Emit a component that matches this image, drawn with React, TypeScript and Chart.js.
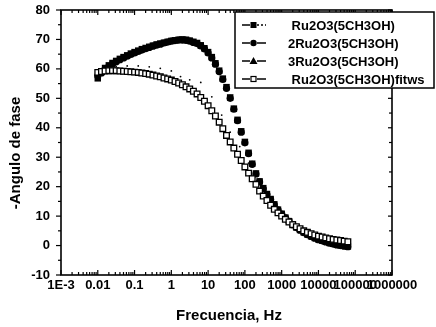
import React, { useEffect, useRef } from "react";
import { Chart, registerables } from "chart.js";

Chart.register(...registerables);

// Frequency grid (Hz), ten points per decade
const frequencies = [
  0.01, 0.0126, 0.0158, 0.02, 0.0251, 0.0316, 0.0398, 0.0501, 0.0631, 0.0794,
  0.1, 0.126, 0.158, 0.2, 0.251, 0.316, 0.398, 0.501, 0.631, 0.794,
  1, 1.26, 1.58, 2, 2.51, 3.16, 3.98, 5.01, 6.31, 7.94,
  10, 12.6, 15.8, 20, 25.1, 31.6, 39.8, 50.1, 63.1, 79.4,
  100, 126, 158, 200, 251, 316, 398, 501, 631, 794,
  1000, 1260, 1580, 2000, 2510, 3160, 3980, 5010, 6310, 7940,
  10000, 12600, 15800, 20000, 25100, 31600, 39800, 50100, 63100,
];

// -phase angle (degrees)
const phaseRu2O3 = [
  56.8, 59.0, 60.3, 61.2, 62.0, 62.7, 63.4, 64.0, 64.6, 65.2,
  65.7, 66.2, 66.7, 67.1, 67.5, 67.9, 68.3, 68.6, 68.9, 69.2,
  69.5, 69.7, 69.9, 70.0, 69.9, 69.6, 69.2, 68.8, 68.0, 67.0,
  65.7, 64.0, 61.9, 59.4, 56.7, 53.8, 50.3, 46.5, 42.7, 38.8,
  35.2, 31.5, 27.8, 24.5, 21.8, 19.5, 17.5, 15.8, 14.0, 12.2,
  10.8, 9.5, 8.3, 7.2, 6.2, 5.3, 4.5, 3.8, 3.2, 2.6,
  2.1, 1.7, 1.3, 0.9, 0.6, 0.3, 0.1, -0.1, -0.3,
];

const phase2Ru2O3 = [
  57.6, 58.6, 59.8, 60.8, 61.7, 62.4, 63.1, 63.7, 64.3, 64.9,
  65.4, 65.9, 66.4, 66.9, 67.3, 67.7, 68.1, 68.4, 68.8, 69.1,
  69.4, 69.6, 69.8, 69.8, 69.7, 69.4, 69.0, 68.6, 67.8, 66.8,
  65.4, 63.7, 61.6, 59.1, 56.4, 53.4, 50.0, 46.3, 42.4, 38.5,
  34.9, 31.2, 27.6, 24.3, 21.6, 19.3, 17.3, 15.6, 13.8, 12.1,
  10.7, 9.4, 8.2, 7.1, 6.1, 5.2, 4.4, 3.7, 3.1, 2.5,
  2.0, 1.6, 1.2, 0.8, 0.5, 0.2, 0.0, -0.2, -0.4,
];

const phaseFit = [
  58.8, 59.1, 59.3, 59.4, 59.4, 59.4, 59.3, 59.2, 59.1, 59.0,
  58.9, 58.8, 58.6, 58.4, 58.2, 57.9, 57.6, 57.3, 56.9, 56.6,
  56.2, 55.7, 55.2, 54.6, 53.9, 53.2, 52.4, 51.5, 50.3, 49.0,
  47.5, 45.8, 44.0, 41.9, 39.7, 37.4, 35.2, 33.1, 31.0, 28.9,
  26.7, 24.6, 22.7, 20.8, 18.5, 16.8, 15.3, 13.7, 12.3, 11.1,
  10.0, 8.9, 8.0, 7.1, 6.4, 5.7, 5.0, 4.5, 4.0, 3.6,
  3.2, 2.9, 2.6, 2.3, 2.1, 1.9, 1.7, 1.5, 1.3,
];

// 3Ru2O3 series: sparse small points
const frequencies3 = [0.0158, 0.0316, 0.0631, 0.126, 0.251, 0.501, 1, 1.78, 3.16, 6.31, 12.6, 23.4, 39.8, 72.4, 126];
const phase3Ru2O3 = [60.5, 60.8, 61.0, 61.0, 60.7, 60.2, 59.3, 57.4, 56.3, 55.4, 50.5, 44.3, 38.5, 33.6, 28.0];

const seriesLabels = [" Ru2O3(5CH3OH)", "2Ru2O3(5CH3OH)", "3Ru2O3(5CH3OH)", " Ru2O3(5CH3OH)fitws"];

const xTickValues = [0.001, 0.01, 0.1, 1, 10, 100, 1000, 10000, 100000, 1000000];
const xTickLabels = ["1E-3", "0.01", "0.1", "1", "10", "100", "1000", "10000", "100000", "1000000"];

const xTitle = "Frecuencia, Hz";
const yTitle = "-Angulo de fase";

const FONT = "'Liberation Sans', Arial, sans-serif";

const pairs = (xs: number[], ys: number[]) => xs.map((x, i) => ({ x, y: ys[i] }));

function line(ctx: CanvasRenderingContext2D, x1: number, y1: number, x2: number, y2: number) {
  ctx.beginPath();
  ctx.moveTo(x1, y1);
  ctx.lineTo(x2, y2);
  ctx.stroke();
}

// Frame, inward/outward tick marks and axis titles
const framePlugin = {
  id: "frame",
  beforeDatasetsDraw(chart: any) {
    const { ctx, chartArea, scales } = chart;
    const { left, right, top, bottom } = chartArea;
    const x = scales.x;
    const y = scales.y;
    ctx.save();
    ctx.strokeStyle = "#000";
    ctx.lineWidth = 1.6;
    ctx.strokeRect(left, top, right - left, bottom - top);
    ctx.lineWidth = 1.2;
    for (let v = -10; v <= 80; v += 5) {
      const py = y.getPixelForValue(v);
      const major = v % 10 === 0;
      line(ctx, left - (major ? 5 : 3), py, left, py);
      line(ctx, right - (major ? 4 : 3), py, right, py);
    }
    for (let d = -3; d <= 6; d++) {
      const base = Math.pow(10, d);
      const px = x.getPixelForValue(base);
      line(ctx, px, bottom, px, bottom - 5);
      line(ctx, px, top, px, top + 5);
      if (d < 6) {
        for (let k = 2; k <= 9; k++) {
          const mx = x.getPixelForValue(k * base);
          line(ctx, mx, bottom, mx, bottom - 3);
          line(ctx, mx, top, mx, top + 3);
        }
      }
    }
    ctx.fillStyle = "#000";
    ctx.font = `bold 15px ${FONT}`;
    ctx.textAlign = "center";
    ctx.textBaseline = "middle";
    ctx.fillText(xTitle, 229, 316);
    ctx.translate(16, 153);
    ctx.rotate(-Math.PI / 2);
    ctx.fillText(yTitle, 0, 0);
    ctx.restore();
  },
};

function drawMarker(ctx: CanvasRenderingContext2D, style: string, cx: number, cy: number) {
  ctx.fillStyle = "#000";
  ctx.strokeStyle = "#000";
  if (style === "rect") {
    ctx.fillRect(cx - 3, cy - 3, 6, 6);
  } else if (style === "circle") {
    ctx.beginPath();
    ctx.arc(cx, cy, 3.2, 0, Math.PI * 2);
    ctx.fill();
  } else if (style === "triangle") {
    ctx.beginPath();
    ctx.moveTo(cx, cy - 4);
    ctx.lineTo(cx + 4, cy + 3);
    ctx.lineTo(cx - 4, cy + 3);
    ctx.closePath();
    ctx.fill();
  } else {
    ctx.fillStyle = "#fff";
    ctx.lineWidth = 1.2;
    ctx.fillRect(cx - 2.5, cy - 2.5, 5, 5);
    ctx.strokeRect(cx - 2.5, cy - 2.5, 5, 5);
  }
}

// Boxed legend in the upper-right corner
const legendPlugin = {
  id: "boxLegend",
  afterDraw(chart: any) {
    const { ctx } = chart;
    const styles = ["rect", "circle", "triangle", "openRect"];
    const rows = [25, 43, 61, 79];
    ctx.save();
    ctx.fillStyle = "#fff";
    ctx.fillRect(235, 12, 199, 76);
    ctx.strokeStyle = "#000";
    ctx.lineWidth = 1.5;
    ctx.strokeRect(235, 12, 199, 76);
    ctx.font = `bold 13px ${FONT}`;
    ctx.textAlign = "left";
    ctx.textBaseline = "middle";
    seriesLabels.forEach((label, i) => {
      const yy = rows[i];
      ctx.strokeStyle = "#000";
      ctx.lineWidth = 1.5;
      line(ctx, 242, yy, 250, yy);
      if (i === 0) {
        ctx.setLineDash([2, 2]);
        line(ctx, 257, yy, 266, yy);
        ctx.setLineDash([]);
      } else {
        line(ctx, 257, yy, 266, yy);
      }
      drawMarker(ctx, styles[i], 253.5, yy);
      ctx.fillStyle = "#000";
      ctx.fillText(label, 288, yy + 1);
    });
    ctx.restore();
  },
};

export default function App() {
  const ref = useRef<HTMLCanvasElement>(null);

  useEffect(() => {
    const canvas = ref.current;
    if (!canvas) return;
    const tickFont = { family: FONT, size: 13, weight: "bold" as const };
    const chart = new Chart(canvas, {
      type: "scatter",
      data: {
        datasets: [
          {
            label: seriesLabels[3],
            data: pairs(frequencies, phaseFit),
            pointStyle: "rect",
            pointRadius: 4,
            borderWidth: 1.3,
            borderColor: "#000",
            backgroundColor: "#fff",
            showLine: false,
            order: 0,
          },
          {
            label: seriesLabels[0],
            data: pairs(frequencies, phaseRu2O3),
            pointStyle: "rect",
            pointRadius: 4.6,
            borderWidth: 0,
            borderColor: "#000",
            backgroundColor: "#000",
            showLine: false,
            order: 1,
          },
          {
            label: seriesLabels[1],
            data: pairs(frequencies, phase2Ru2O3),
            pointStyle: "circle",
            pointRadius: 3.6,
            borderWidth: 0,
            borderColor: "#000",
            backgroundColor: "#000",
            showLine: false,
            order: 2,
          },
          {
            label: seriesLabels[2],
            data: pairs(frequencies3, phase3Ru2O3),
            pointStyle: "circle",
            pointRadius: 0.9,
            borderWidth: 0,
            borderColor: "#000",
            backgroundColor: "#000",
            showLine: false,
            order: 3,
          },
        ],
      },
      options: {
        responsive: false,
        animation: false,
        layout: { padding: { top: 10, right: 44, left: 0, bottom: 0 } },
        plugins: { legend: { display: false }, tooltip: { enabled: false } },
        scales: {
          x: {
            type: "logarithmic",
            position: "bottom",
            min: 0.001,
            max: 1000000,
            afterBuildTicks: (scale: any) => {
              scale.ticks = xTickValues.map((value) => ({ value }));
            },
            afterFit: (scale: any) => {
              scale.height = 52;
            },
            grid: { display: false, drawTicks: false },
            border: { display: false },
            ticks: {
              autoSkip: false,
              maxRotation: 0,
              minRotation: 0,
              padding: 3,
              color: "#000",
              font: tickFont,
              callback: (_v: any, i: number) => xTickLabels[i],
            },
          },
          y: {
            min: -10,
            max: 80,
            afterFit: (scale: any) => {
              scale.width = 61;
              scale.paddingTop = 0;
              scale.paddingBottom = 0;
            },
            grid: { display: false, drawTicks: false },
            border: { display: false },
            ticks: { stepSize: 10, padding: 11, color: "#000", font: tickFont },
          },
        },
      },
      plugins: [framePlugin, legendPlugin],
    });
    return () => chart.destroy();
  }, []);

  return (
    <div style={{ position: "absolute", left: 0, top: 0, width: 436, height: 327, background: "#fff" }}>
      <canvas ref={ref} width={436} height={327} style={{ display: "block" }} />
    </div>
  );
}
